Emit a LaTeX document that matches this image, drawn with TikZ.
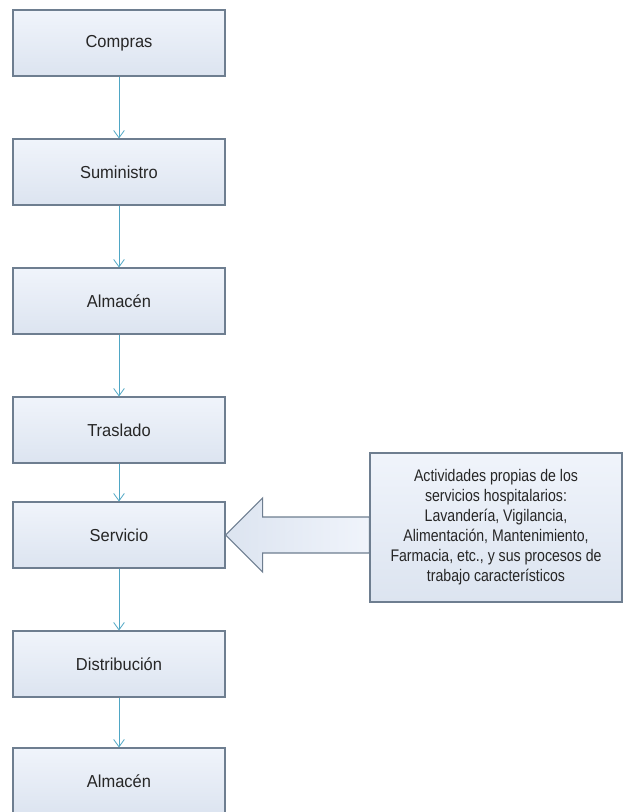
\documentclass[tikz,border=0pt]{standalone}
\usepackage{fontspec}
\setmainfont{Liberation Sans}
\newfontfamily\boxfont[FakeStretch=0.95]{Liberation Sans}
\newfontfamily\notefont[FakeStretch=0.84]{Liberation Sans}
\usepackage{xcolor}
\usetikzlibrary{shapes.geometric, arrows, arrows.meta, calc, positioning}
\definecolor{boxline}{HTML}{6E7E90}
\definecolor{boxtop}{HTML}{F0F4FB}
\definecolor{boxbot}{HTML}{DCE4F0}
\definecolor{connblue}{HTML}{4FA6C4}
\tikzstyle{stepbox} = [rectangle, draw=boxline, line width=0.8pt, top color=boxtop, bottom color=boxbot,
  minimum width=159pt, minimum height=49.5pt, font=\boxfont\fontsize{13}{15}\selectfont, text=black!85]
\tikzstyle{notebox} = [rectangle, draw=boxline, line width=0.8pt, top color=boxtop, bottom color=boxbot,
  minimum width=189pt, minimum height=111.75pt, align=center, font=\notefont\fontsize{12.6}{15}\selectfont, text=black!85]
\tikzstyle{conn} = [connblue, line width=0.6pt, -{Straight Barb[length=5.5pt,width=8pt]}]

\begin{document}
\begin{tikzpicture}[x=0.75pt, y=-0.75pt, node distance=96.75pt]
        \clip (0,0) rectangle (624,812);
        \fill[white] (0,0) rectangle (624,812);

        \node (compras) [stepbox] at (119,43) {Compras};
        \node (suministro) [stepbox, below of=compras] {Suministro};
        \node (almacen) [stepbox, below of=suministro] {Almacén};
        \node (traslado) [stepbox, below of=almacen] {Traslado};
        \node (servicio) [stepbox, below of=traslado, yshift=18pt] {Servicio};
        \node (distribucion) [stepbox, below of=servicio] {Distribución};
        \node (almacen2) [stepbox, below of=distribucion, yshift=9pt] {Almacén};

        \node (actividades) [notebox] at (496,527.5) {Actividades propias de los\\servicios hospitalarios:\\Lavandería, Vigilancia,\\Alimentación, Mantenimiento,\\Farmacia, etc., y sus procesos de\\trabajo característicos};

        \draw [conn] (compras) -- (suministro);
        \draw [conn] (suministro) -- (almacen);
        \draw [conn] (almacen) -- (traslado);
        \draw [conn] (traslado) -- (servicio);
        \draw [conn] (servicio) -- (distribucion);
        \draw [conn] (distribucion) -- (almacen2);

        % block arrow from the note to Servicio
        \draw [draw=boxline, line width=0.8pt, left color=boxbot, right color=boxtop]
          (servicio.east) -- ($(servicio.east)+(37,-37)$) -- ($(servicio.east)+(37,-18)$)
          -- (actividades.west |- {$(servicio.east)+(0,-18)$}) -- (actividades.west |- {$(servicio.east)+(0,18)$})
          -- ($(servicio.east)+(37,18)$) -- ($(servicio.east)+(37,37)$) -- cycle;
    \end{tikzpicture}
\end{document}
